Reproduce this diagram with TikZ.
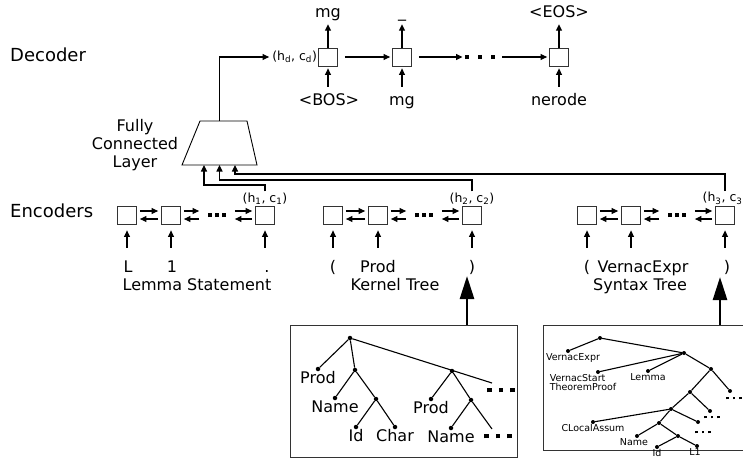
\documentclass[tikz,border=0pt]{standalone}
\usepackage{fontspec}
\setmainfont{DejaVu Sans}
\usetikzlibrary{arrows.meta,calc}

% three square dots: size, gap
\newcommand{\blockdots}[2]{\rule{#1}{#1}\hspace{#2}\rule{#1}{#1}\hspace{#2}\rule{#1}{#1}}

\tikzset{
  cell/.style={draw=black!80, line width=0.8pt, minimum width=19pt, minimum height=18pt, inner sep=0pt},
  arr/.style={line width=1.1pt, -{Triangle[length=6.5pt,width=6pt]}},
  darr/.style={arr, shorten <=7pt, shorten >=2pt},
  pair/.style={arr, shorten <=3pt, shorten >=3pt},
  encin/.style={arr, shorten <=11pt, shorten >=6pt},
  decin/.style={arr, shorten <=5pt, shorten >=2pt},
  bigarr/.style={line width=2.6pt, -{Triangle[length=23pt,width=14pt]}},
  txt/.style={font=\fontsize{16}{18}\selectfont, inner sep=0pt},
  head/.style={font=\fontsize{18}{21}\selectfont, inner sep=0pt},
  tok/.style={font=\fontsize{16}{18}\selectfont, text height=12pt, text depth=4pt, inner sep=1pt},
  state/.style={font=\fontsize{12.5}{14}\selectfont, inner sep=1pt},
  decdots/.style={inner sep=0pt},
  encdots/.style={inner sep=6pt},
  fcl/.style={draw, line width=0.9pt, line join=miter},
  treebox/.style={draw=black!80, line width=0.9pt, inner sep=0pt},
  tedge/.style={line width=1.1pt},
  kdot/.style={circle, fill, inner sep=0pt, minimum size=4.5pt, label distance=-1pt},
  klbl/.style={font=\fontsize{16}{18}\selectfont, inner sep=0pt},
  kdots/.style={inner sep=0pt},
  sdot/.style={circle, fill, inner sep=0pt, minimum size=4pt, label distance=-0.5pt},
  slbl/.style={font=\fontsize{9.5}{9.5}\selectfont, inner sep=0pt, align=left},
  sdots/.style={inner sep=0pt}
}

\begin{document}
\begin{tikzpicture}[x=1pt,y=1pt,yscale=-1,xscale=1]
\useasboundingbox (0,0) rectangle (743,460);
\clip (0,0) rectangle (743,460);

% Row titles
\node[head, anchor=base west] (declbl) at (10,62) {Decoder};
\node[head, anchor=base west] (enclbl) at (10,217) {Encoders};

%Shape: Decoder cells
\node[cell] (d1) at (328,57) {};
\node[cell] (d2) at (402,57) {};
\node[decdots] (ddots) at (480,57) {\blockdots{4.5pt}{8.5pt}};
\node[cell] (d3) at (559,57) {};
\draw[darr] (d1) -- (d2);
\draw[darr] (d2) -- (ddots);
\draw[darr] (ddots) -- (d3);

% Text Node: decoder outputs
\node[tok, anchor=base] (o1) at (328,18) {mg};
\node[tok, anchor=base] (o2) at (402,18) {\_};
\node[tok, anchor=base] (o3) at (559,18) {<EOS>};
\draw[arr, shorten >=1pt] (d1.north) -- (o1.south);
\draw[arr, shorten >=1pt] (d2.north) -- (o2.south);
\draw[arr, shorten >=1pt] (d3.north) -- (o3.south);

% Text Node: decoder inputs
\node[tok, anchor=base] (i1) at (329,105) {<BOS>};
\node[tok, anchor=base] (i2) at (402,105) {mg};
\node[tok, anchor=base] (i3) at (559,105) {nerode};
\draw[decin] (d1 |- i1.north) -- (d1.south);
\draw[decin] (d2 |- i2.north) -- (d2.south);
\draw[decin] (d3 |- i3.north) -- (d3.south);

%Shape: Fully connected layer
\draw[fcl] (200,121) -- (247,121) -- (257,165) -- (182,165) -- cycle;
\coordinate (fctop) at (219.5,121);
\coordinate (fcbot) at (219.5,165);
\node[txt, align=center] (fclbl) at (135,145) {Fully\\Connected\\Layer};
\node[state, anchor=east] (hd) at (d1.west) {(h\textsubscript{d}, c\textsubscript{d})};
\draw[arr, shorten >=2pt] (fctop) |- (hd.west);

%Shape: Encoder 1 (lemma statement)
\node[cell] (e11) at (127,215) {};
\node[cell] (e12) at (171,215) {};
\node[encdots] (ed1) at (217,215) {\blockdots{4pt}{2.7pt}};
\node[cell] (e13) at (265,215) {};
%Shape: Encoder 2 (kernel tree)
\node[cell] (e21) at (333,215) {};
\node[cell] (e22) at (378,215) {};
\node[encdots] (ed2) at (424,215) {\blockdots{4pt}{2.7pt}};
\node[cell] (e23) at (472,215) {};
%Shape: Encoder 3 (syntax tree)
\node[cell] (e31) at (587,215) {};
\node[cell] (e32) at (631,215) {};
\node[encdots] (ed3) at (677,215) {\blockdots{4pt}{2.7pt}};
\node[cell] (e33) at (725,215) {};

% forward and backward links
\foreach \a/\b in {e11/e12,e12/ed1,ed1/e13,e21/e22,e22/ed2,ed2/e23,e31/e32,e32/ed3,ed3/e33}{
  \draw[pair] ($(\a.east)+(0,-4)$) -- ($(\b.west)+(0,-4)$);
  \draw[pair] ($(\b.west)+(0,4)$) -- ($(\a.east)+(0,4)$);
}

% Text Node: final states
\node[state, anchor=south] (h1) at (e13.north) {(h\textsubscript{1}, c\textsubscript{1})};
\node[state, anchor=south] (h2) at (e23.north) {(h\textsubscript{2}, c\textsubscript{2})};
\node[state, anchor=south] (h3) at (e33.north) {(h\textsubscript{3}, c\textsubscript{3})};

% Text Node: encoder inputs
\node[tok, anchor=base] (x11) at (128,272) {L};
\node[tok, anchor=base] (x12) at (172,272) {1};
\node[tok, anchor=base] (x13) at (267,272) {.};
\node[tok, anchor=base] (x21) at (333,272) {(};
\node[tok, anchor=base] (x22) at (378,272) {Prod};
\node[tok, anchor=base] (x23) at (472,272) {)};
\node[tok, anchor=base] (x31) at (587,272) {(};
\node[tok, anchor=base] (x32) at (643,272) {VernacExpr};
\node[tok, anchor=base] (x33) at (727,272) {)};
\draw[encin] (e11 |- x11.north) -- (e11.south);
\draw[encin] (e12 |- x12.north) -- (e12.south);
\draw[encin] (e13 |- x13.north) -- (e13.south);
\draw[encin] (e21 |- x21.north) -- (e21.south);
\draw[encin] (e22 |- x22.north) -- (e22.south);
\draw[encin] (e23 |- x23.north) -- (e23.south);
\draw[encin] (e31 |- x31.north) -- (e31.south);
\draw[encin] (e32 |- x32.north) -- (e32.south);
\draw[encin] (e33 |- x33.north) -- (e33.south);

\node[txt, anchor=base] (cap1) at (197,290) {Lemma Statement};
\node[txt, anchor=base] (cap2) at (395,290) {Kernel Tree};
\node[txt, anchor=base] (cap3) at (640,290) {Syntax Tree};

% states into the fully connected layer
\coordinate (lv1) at (0,185);
\coordinate (lv2) at (0,180);
\coordinate (lv3) at (0,174);
\coordinate (fcin1) at ($(fcbot)+(-15.5,0)$);
\coordinate (fcin2) at (fcbot);
\coordinate (fcin3) at ($(fcbot)+(15.5,0)$);
\draw[arr] (h1.north) -- (h1.north |- lv1) -| (fcin1);
\draw[arr] (h2.north) -- (h2.north |- lv2) -| (fcin2);
\draw[arr] (h3.north) -- (h3.north |- lv3) -| (fcin3);

%Shape: Kernel tree box
\node[treebox, minimum width=227pt, minimum height=132pt] (ktree) at (403.5,391) {};
\coordinate (ktip) at (467,276);
\draw[bigarr] (ktip |- ktree.north) -- (ktip);

\node[kdot] (k0) at (350,338) {};
\node[kdot, label={[klbl]below:Prod}] (kp1) at (318,369) {};
\node[kdot] (k1) at (355,370) {};
\node[kdot, label={[klbl]below:Name}] (kn1) at (335,398) {};
\node[kdot] (k2) at (376,399) {};
\node[kdot, label={[klbl]below:Id}] (kid) at (356,427) {};
\node[kdot, label={[klbl]below:Char}] (kch) at (395,427) {};
\node[kdot] (k3) at (452,371) {};
\node[kdot, label={[klbl]below:Prod}] (kp2) at (431,399) {};
\node[kdot] (k4) at (471,400) {};
\node[kdot, label={[klbl]below:Name}] (kn2) at (451,428) {};
\coordinate (kend1) at (492,383);
\coordinate (kend2) at (492,429);
\node[kdots] (kd1) at (501,390) {\blockdots{4.5pt}{7.2pt}};
\node[kdots] (kd2) at (498,436) {\blockdots{4.5pt}{7.2pt}};
\draw[tedge] (k0) -- (kp1);
\draw[tedge] (k0) -- (k1);
\draw[tedge] (k1) -- (kn1);
\draw[tedge] (k1) -- (k2);
\draw[tedge] (k2) -- (kid);
\draw[tedge] (k2) -- (kch);
\draw[tedge] (k0) -- (kend1);
\draw[tedge] (k3) -- (kp2);
\draw[tedge] (k3) -- (k4);
\draw[tedge] (k4) -- (kn2);
\draw[tedge] (k4) -- (kend2);

%Shape: Syntax tree box
\node[treebox, minimum width=215pt, minimum height=125pt] (stree) at (650.5,387.5) {};
\coordinate (stip) at (720,277);
\draw[bigarr] (stip |- stree.north) -- (stip);

\node[sdot] (s0) at (600,338) {};
\node[sdot, label={[slbl, xshift=5pt]below:VernacExpr}] (sve) at (568,351) {};
\node[sdot] (sa) at (684,353) {};
\node[sdot, label={[slbl, xshift=-15pt]below:VernacStart\\TheoremProof}] (svs) at (598,372) {};
\node[sdot, label={[slbl]below:Lemma}] (slem) at (648,371) {};
\node[sdot] (sb) at (711,369) {};
\node[sdot] (sc) at (690,392) {};
\node[sdot] (sd) at (730,391) {};
\node[sdot] (se) at (671,409) {};
\node[sdot] (sf) at (710,411) {};
\node[sdot] (sg) at (698,422) {};
\node[sdot, label={[slbl]below:CLocalAssum}] (scla) at (593,422) {};
\node[sdot] (sh) at (659,423) {};
\node[sdot, label={[slbl, xshift=-3pt]below:Name}] (sname) at (637,436) {};
\node[sdot] (si) at (678,436) {};
\node[sdot, label={[slbl]below:Id}] (sid) at (657,447) {};
\node[sdot, label={[slbl, xshift=-2pt]below:L1}] (sl1) at (697,446) {};
\node[sdots] (sdd) at (734,398) {\blockdots{2.6pt}{3.8pt}};
\node[sdots] (sdf) at (712,417) {\blockdots{2.6pt}{3.8pt}};
\node[sdots] (sdg) at (703,432) {\blockdots{2.6pt}{3.8pt}};
\draw[tedge] (s0) -- (sve);
\draw[tedge] (s0) -- (sa);
\draw[tedge] (sa) -- (svs);
\draw[tedge] (sa) -- (slem);
\draw[tedge] (sa) -- (sb);
\draw[tedge] (sb) -- (sc);
\draw[tedge] (sb) -- (sd);
\draw[tedge] (sc) -- (se);
\draw[tedge] (sc) -- (sf);
\draw[tedge] (se) -- (scla);
\draw[tedge] (se) -- (sh);
\draw[tedge] (se) -- (sg);
\draw[tedge] (sh) -- (sname);
\draw[tedge] (sh) -- (si);
\draw[tedge] (si) -- (sid);
\draw[tedge] (si) -- (sl1);

\end{tikzpicture}
\end{document}
